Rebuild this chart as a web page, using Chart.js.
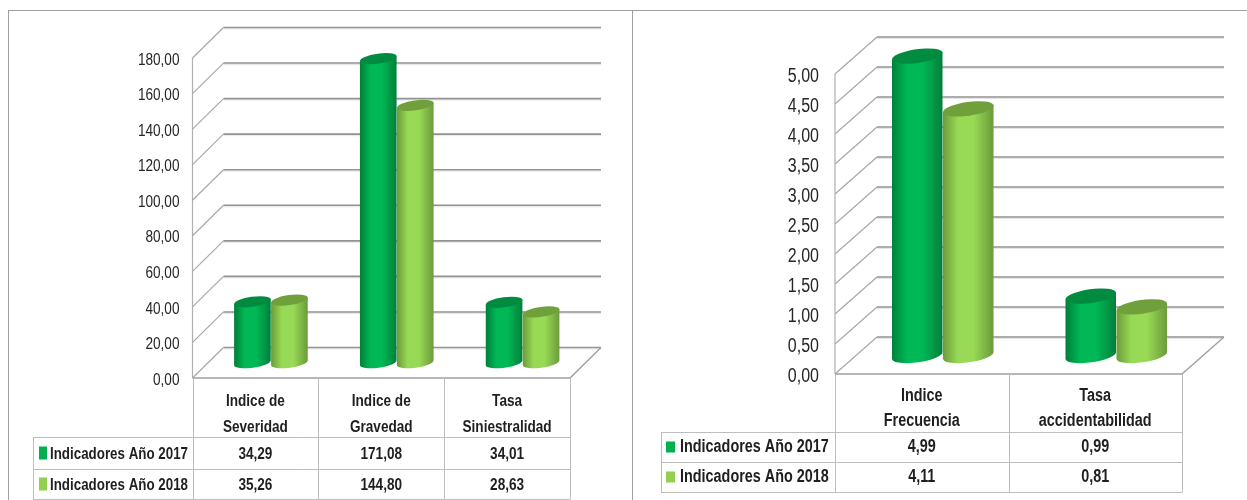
<!DOCTYPE html>
<html lang="es">
<head>
<meta charset="utf-8">
<title>Indicadores</title>
<script src="https://cdn.jsdelivr.net/npm/chart.js@4/dist/chart.umd.js"></script>
<style>
html,body{margin:0;padding:0;background:#fff;width:1247px;height:500px;overflow:hidden}
canvas{position:absolute;top:0}
.f{position:absolute;background:#a0a0a0}
</style>
</head>
<body>
<div class="f" style="left:8px;top:10px;width:1239px;height:1px"></div>
<div class="f" style="left:8px;top:10px;width:1px;height:490px"></div>
<div class="f" style="left:632px;top:10px;width:1px;height:490px"></div>
<canvas id="left" width="625" height="500" style="left:0"></canvas>
<canvas id="right" width="614" height="500" style="left:633px"></canvas>
<script>
const seriesNames = ['Indicadores Año 2017', 'Indicadores Año 2018'];

const leftCategories = [['Indice de', 'Severidad'], ['Indice de', 'Gravedad'], ['Tasa', 'Siniestralidad']];
const left2017 = [34.29, 171.08, 34.01];
const left2018 = [35.26, 144.80, 28.63];

const rightCategories = [['Indice', 'Frecuencia'], ['Tasa', 'accidentabilidad']];
const right2017 = [4.99, 0.99];
const right2018 = [4.11, 0.81];

const DARK = '#00B050', LIGHT = '#92D050';
const SHADES = {
  [DARK]:  {edge: '#007F3A', mid: '#00B855', top: '#008B40'},
  [LIGHT]: {edge: '#6C9A3A', mid: '#98DA55', top: '#70A03C'}
};
const FONT = '"Liberation Sans",sans-serif';
const NARROW = 0.8;
const comma = v => Number(v).toFixed(2).replace('.', ',');

class CylinderBar extends Chart.BarElement {
  static id = 'cylinder';
  static defaults = {...Chart.BarElement.defaults};
  draw(ctx) {
    const {x, y, base, width} = this.getProps(['x', 'y', 'base', 'width'], true);
    const colors = SHADES[this.options.backgroundColor] || SHADES[DARK];
    const a = width / 2, ry = width * 0.135, t = 8 * Math.PI / 180;
    const ax = a * Math.cos(t), ay = a * Math.sin(t);
    const g = ctx.createLinearGradient(x - a, 0, x + a, 0);
    g.addColorStop(0, colors.edge);
    g.addColorStop(0.3, colors.mid);
    g.addColorStop(0.6, colors.mid);
    g.addColorStop(1, colors.edge);
    ctx.save();
    ctx.beginPath();
    ctx.moveTo(x - ax, y + ay);
    ctx.lineTo(x - ax, base + ay);
    ctx.ellipse(x, base, a, ry, -t, Math.PI, 0, true);
    ctx.lineTo(x + ax, y - ay);
    ctx.closePath();
    ctx.fillStyle = g;
    ctx.fill();
    ctx.beginPath();
    ctx.ellipse(x, y, a, ry, -t, 0, Math.PI * 2);
    ctx.fillStyle = colors.top;
    ctx.fill();
    ctx.restore();
  }
}
Chart.register(CylinderBar);
Chart.defaults.datasets.bar.dataElementType = 'cylinder';

const stage3d = {
  id: 'stage3d',
  beforeDatasetsDraw(chart, args, o) {
    const {ctx, scales: {x, y}} = chart;
    ctx.save();
    ctx.lineWidth = 1.2;
    ctx.strokeStyle = '#b0b0b0';
    ctx.beginPath();
    ctx.moveTo(x.left, y.top);
    ctx.lineTo(x.left, y.bottom);
    ctx.stroke();
    y.ticks.forEach(tick => {
      const py = y.getPixelForValue(tick.value);
      ctx.strokeStyle = '#a8a8a8';
      ctx.lineWidth = 1.2;
      ctx.beginPath();
      ctx.moveTo(x.left, py);
      ctx.lineTo(x.left + o.dx, py + o.dy);
      ctx.stroke();
      ctx.strokeStyle = '#e6e6e6';
      ctx.lineWidth = 1;
      ctx.beginPath();
      ctx.moveTo(x.left + o.dx, py + o.dy + 1.5);
      ctx.lineTo(x.right + o.dx, py + o.dy + 1.5);
      ctx.stroke();
      ctx.strokeStyle = '#929292';
      ctx.lineWidth = 1.6;
      ctx.beginPath();
      ctx.moveTo(x.left + o.dx, py + o.dy);
      ctx.lineTo(x.right + o.dx, py + o.dy);
      ctx.stroke();
    });
    ctx.strokeStyle = '#a0a0a0';
    ctx.lineWidth = 1.4;
    ctx.beginPath();
    ctx.moveTo(x.left, y.bottom);
    ctx.lineTo(x.right, y.bottom);
    ctx.lineTo(x.right + o.dx, y.bottom + o.dy);
    ctx.stroke();
    ctx.restore();
  },
  beforeDatasetDraw(chart, args, o) {
    if (args.index === 1) return false;
    chart.ctx.save();
    chart.ctx.translate(o.dx / 2, o.dy / 2);
  },
  afterDatasetDraw(chart) {
    chart.ctx.restore();
  },
  afterDatasetsDraw(chart, args, o) {
    chart.ctx.save();
    chart.ctx.translate(o.dx / 2, o.dy / 2);
    chart.getDatasetMeta(1).controller.draw();
    chart.ctx.restore();
  },
  afterDraw(chart, args, o) {
    const {ctx, scales: {x, y}} = chart;
    const n = x.ticks.length, cw = (x.right - x.left) / n;
    const [r0, r1, r2] = o.rows;
    ctx.save();
    ctx.strokeStyle = '#bdbdbd';
    ctx.lineWidth = 1;
    ctx.beginPath();
    for (let i = 0; i <= n; i++) {
      const px = Math.round(x.left + i * cw) + 0.5;
      ctx.moveTo(px, y.bottom);
      ctx.lineTo(px, r2);
    }
    [r0, r1, r2].forEach(r => {
      ctx.moveTo(o.tableLeft, r + 0.5);
      ctx.lineTo(x.right + 0.5, r + 0.5);
    });
    ctx.moveTo(o.tableLeft + 0.5, r0);
    ctx.lineTo(o.tableLeft + 0.5, r2);
    ctx.stroke();
    ctx.textBaseline = 'middle';
    chart.data.datasets.forEach((ds, d) => {
      const cy = d === 0 ? (r0 + r1) / 2 : (r1 + r2) / 2;
      ctx.fillStyle = ds.backgroundColor;
      ctx.fillRect(o.tableLeft + o.markerX, cy - o.markerH / 2, o.markerW, o.markerH);
      ctx.fillStyle = '#1f1f1f';
      ctx.textAlign = 'left';
      ctx.font = 'bold ' + o.legendSize + 'px ' + FONT;
      ctx.fillText(ds.label, o.tableLeft + o.textX, cy + o.textDy);
      ctx.textAlign = 'center';
      ctx.font = 'bold ' + o.cellSize + 'px ' + FONT;
      ds.data.forEach((v, i) => ctx.fillText(comma(v), x.getPixelForTick(i), cy + o.textDy));
    });
    ctx.restore();
  }
};

function condense(canvas) {
  const ctx = canvas.getContext('2d');
  const fill = ctx.fillText.bind(ctx);
  ctx.fillText = (text, x, y, max) => {
    ctx.save();
    ctx.translate(x, y);
    ctx.scale(NARROW, 1);
    fill(text, 0, 0);
    ctx.restore();
  };
  return ctx;
}

function build(id, categories, a, b, cfg) {
  new Chart(condense(document.getElementById(id)), {
    type: 'bar',
    data: {
      labels: categories,
      datasets: [
        {label: seriesNames[0], data: a, backgroundColor: DARK, clip: false,
         barPercentage: 1, categoryPercentage: 0.588},
        {label: seriesNames[1], data: b, backgroundColor: LIGHT, clip: false,
         barPercentage: 1, categoryPercentage: 0.588}
      ]
    },
    options: {
      responsive: false,
      animation: false,
      events: [],
      layout: {padding: {left: 0, top: cfg.top, right: cfg.right, bottom: 0}},
      plugins: {legend: {display: false}, tooltip: {enabled: false}, stage3d: cfg.stage},
      scales: {
        x: {
          grid: {display: false, drawTicks: false},
          border: {display: false},
          afterFit(s) { s.height = cfg.xHeight; },
          ticks: {
            autoSkip: false, maxRotation: 0, minRotation: 0, padding: cfg.xPad, color: '#1f1f1f',
            font: {family: FONT, weight: 'bold', size: cfg.catSize, lineHeight: cfg.catLine}
          }
        },
        y: {
          min: 0, max: cfg.max,
          grid: {display: false, drawTicks: false},
          border: {display: false},
          afterFit(s) { s.width = cfg.yWidth; },
          ticks: {
            stepSize: cfg.step, padding: cfg.yPad, color: '#262626', labelOffset: cfg.yOff,
            font: {family: FONT, size: cfg.tickSize},
            callback: v => comma(v)
          }
        }
      }
    },
    plugins: [stage3d]
  });
}

build('left', leftCategories, left2017, left2018, {
  top: 58, right: 55, xHeight: 122, yWidth: 192.5, max: 180, step: 20,
  xPad: 10, catSize: 17, catLine: 1.53, yPad: 13, yOff: 2, tickSize: 17,
  stage: {dx: 31, dy: -30.5, rows: [437, 469, 499], tableLeft: 33, markerX: 6, markerW: 8, markerH: 13,
          textX: 17, textDy: 1, legendSize: 16.7, cellSize: 17}
});
build('right', rightCategories, right2017, right2018, {
  top: 74, right: 65, xHeight: 126, yWidth: 202, max: 5, step: 0.5,
  xPad: 10, catSize: 18, catLine: 1.36, yPad: 16, yOff: 2, tickSize: 20,
  stage: {dx: 42, dy: -37, rows: [432, 462, 492], tableLeft: 28, markerX: 5, markerW: 9, markerH: 11,
          textX: 19, textDy: 0, legendSize: 18, cellSize: 18}
});
</script>
</body>
</html>
